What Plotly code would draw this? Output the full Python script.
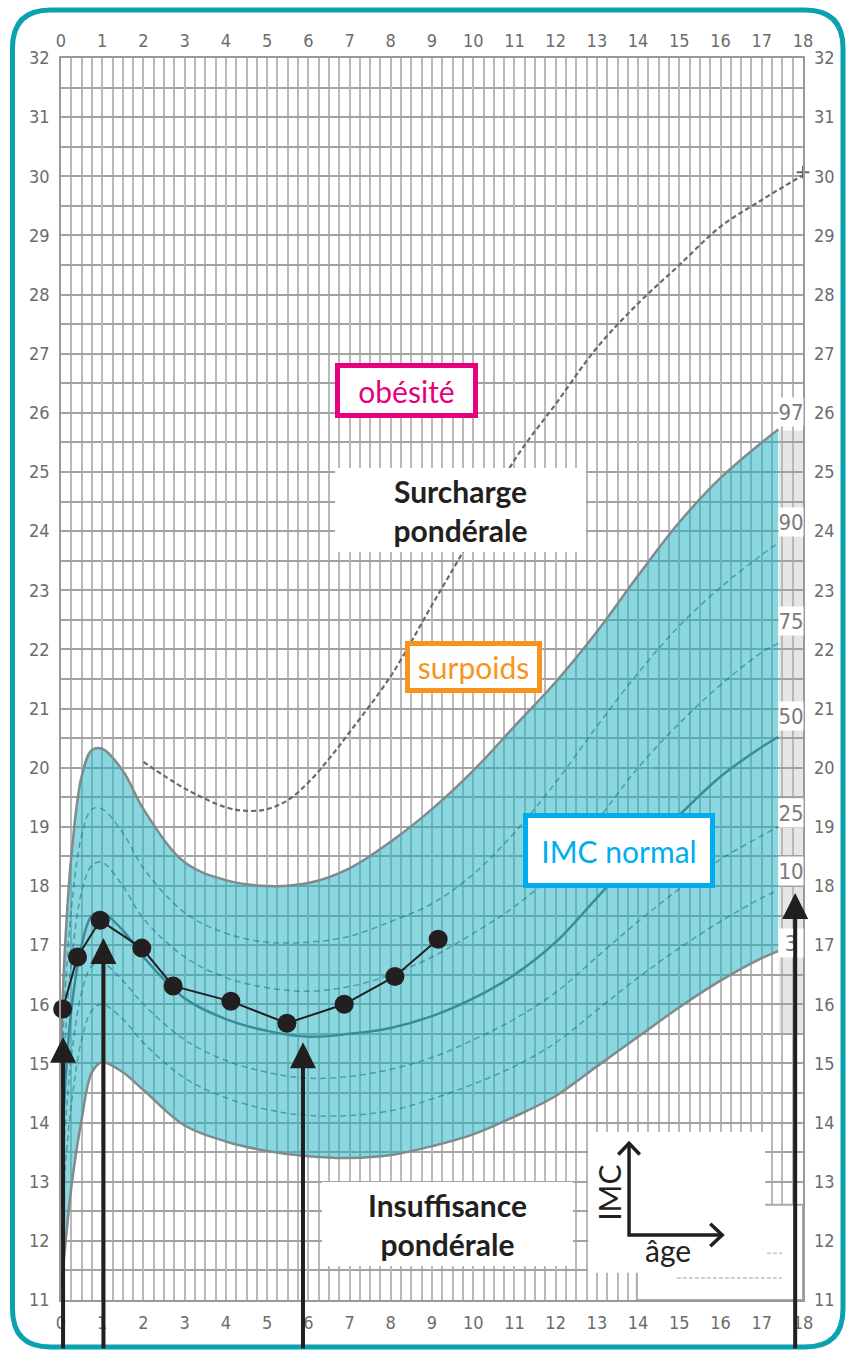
import plotly.graph_objects as go

# ---------------- data ----------------
AGES = [0, 0.1, 0.25, 0.5, 0.75, 1, 1.5, 2, 3, 4, 5, 6, 7, 8, 9, 10, 11, 12, 13, 14, 15, 16, 17, 17.4]
P97 = [15.3, 17.0, 18.5, 19.85, 20.3, 20.32, 19.95, 19.3, 18.4, 18.1, 18.0, 18.05, 18.3, 18.75, 19.3, 19.95, 20.7, 21.45, 22.3, 23.25, 24.15, 24.9, 25.5, 25.72]
P90 = [14.6, 16.2, 17.6, 18.85, 19.3, 19.3, 18.9, 18.3, 17.55, 17.2, 17.05, 17.05, 17.15, 17.4, 17.7, 18.2, 18.9, 19.75, 20.7, 21.6, 22.4, 23.05, 23.6, 23.8]
P75 = [13.9, 15.4, 16.7, 17.9, 18.35, 18.4, 18.0, 17.45, 16.8, 16.45, 16.28, 16.22, 16.3, 16.5, 16.8, 17.2, 17.65, 18.25, 19.1, 20.0, 20.75, 21.4, 21.95, 22.1]
P50 = [13.2, 14.6, 15.9, 17.0, 17.5, 17.55, 17.25, 16.8, 16.1, 15.75, 15.55, 15.45, 15.5, 15.6, 15.8, 16.1, 16.5, 17.05, 17.8, 18.55, 19.2, 19.85, 20.35, 20.52]
P25 = [12.6, 13.9, 15.1, 16.2, 16.65, 16.7, 16.4, 16.0, 15.4, 15.05, 14.85, 14.75, 14.78, 14.9, 15.1, 15.4, 15.75, 16.2, 16.8, 17.4, 17.95, 18.45, 18.85, 19.0]
P10 = [12.0, 13.2, 14.3, 15.4, 15.9, 16.0, 15.75, 15.35, 14.75, 14.42, 14.22, 14.12, 14.12, 14.2, 14.4, 14.65, 14.95, 15.35, 15.9, 16.45, 16.95, 17.4, 17.8, 17.93]
P3 = [11.2, 11.9, 12.9, 14.05, 14.85, 15.02, 14.85, 14.55, 13.95, 13.68, 13.52, 13.43, 13.4, 13.45, 13.6, 13.8, 14.1, 14.45, 14.95, 15.45, 15.95, 16.4, 16.78, 16.9]

IOTF_AGES = [2, 3, 4, 4.5, 5, 5.5, 6, 6.5, 7, 8, 9, 10, 11, 12, 13, 14, 15, 16, 17, 18]
IOTF_BMI = [20.1, 19.65, 19.33, 19.27, 19.3, 19.45, 19.75, 20.15, 20.6, 21.55, 22.75, 23.95, 25.2, 26.15, 27.1, 27.85, 28.5, 29.15, 29.6, 30.02]

CHILD_AGES = [0.04, 0.4, 0.95, 1.96, 2.72, 4.12, 5.48, 6.87, 8.1, 9.15]
CHILD_BMI = [15.92, 16.8, 17.42, 16.95, 16.31, 16.05, 15.68, 16.0, 16.47, 17.1]

PCT_LABELS = ["97", "90", "75", "50", "25", "10", "3"]
PCT_LABEL_BMI = [26.02, 24.15, 22.48, 20.87, 19.23, 18.25, 17.04]

ARROW_AGES = [0.05, 1.03, 5.87, 17.81]
ARROW_TIPS = [15.45, 17.12, 15.36, 17.88]

X_TICKS = list(range(0, 19))
Y_TICKS = list(range(11, 33))

# ---------------- geometry helpers ----------------
W, H = 851, 1350
ML, MR, MT, MB = 61, 48, 58, 50
PW, PH = W - ML - MR, H - MT - MB
X0, X1, Y0, Y1 = 0, 18, 11, 32


def data_y_to_px(v):
    return MT + (Y1 - v) / (Y1 - Y0) * PH


def pxx(px):
    return (px - ML) / PW


def pxy(py):
    return (H - MB - py) / PH


TEAL_FILL = "rgba(30,178,196,0.52)"
EDGE = "#7f8b8d"
INNER = "rgba(25,110,125,0.55)"
INK = "#231f20"
NARROW = "DejaVu Sans Condensed, Liberation Sans Narrow, Arial Narrow, sans-serif"
TICK_FONT = dict(family=NARROW, size=18, color="#6c6c6c")
LABEL_FONT = "Lato, Open Sans, sans-serif"
SPL = dict(shape="spline", smoothing=1.0)

fig = go.Figure()

# band P3 - P97
fig.add_trace(go.Scatter(x=AGES, y=P3, mode="lines", line=dict(color=EDGE, width=2.5, **SPL),
                         hoverinfo="skip"))
fig.add_trace(go.Scatter(x=AGES, y=P97, mode="lines", fill="tonexty", fillcolor=TEAL_FILL,
                         line=dict(color=EDGE, width=2.5, **SPL), hoverinfo="skip"))
for series in (P90, P75, P25, P10):
    fig.add_trace(go.Scatter(x=AGES, y=series, mode="lines",
                             line=dict(color=INNER, width=1.5, dash="6px,4px", **SPL),
                             hoverinfo="skip"))
fig.add_trace(go.Scatter(x=AGES, y=P50, mode="lines",
                         line=dict(color="#3a8c99", width=2.5, **SPL), hoverinfo="skip"))

# IOTF dashed curve
fig.add_trace(go.Scatter(x=IOTF_AGES, y=IOTF_BMI, mode="lines",
                         line=dict(color="#6a6a6a", width=2.2, dash="5px,3px", **SPL),
                         hoverinfo="skip"))
fig.add_trace(go.Scatter(x=IOTF_AGES[-1:], y=[IOTF_BMI[-1] + 0.05], mode="markers",
                         marker=dict(symbol="cross-thin", size=9, line=dict(color="#666", width=2)),
                         hoverinfo="skip", cliponaxis=False))

# child's BMI
fig.add_trace(go.Scatter(x=CHILD_AGES, y=CHILD_BMI, mode="lines+markers",
                         line=dict(color=INK, width=2), marker=dict(color=INK, size=19),
                         hoverinfo="skip", cliponaxis=False))

# dummy trace for the mirrored axes
fig.add_trace(go.Scatter(x=[0], y=[11], xaxis="x2", yaxis="y2", mode="markers",
                         marker=dict(opacity=0), hoverinfo="skip"))

shapes = []
# grey percentile column on the right
shapes.append(dict(type="rect", xref="x", yref="y", x0=17.42, x1=18, y0=15.5, y1=25.7,
                   fillcolor="#e6e6e6", line=dict(width=0), layer="below"))
# faint legend box bottom-right
shapes.append(dict(type="rect", xref="x", yref="y", x0=13.97, x1=18, y0=11, y1=12.61,
                   fillcolor="white", line=dict(color="#aaaaaa", width=2), layer="above"))
shapes.append(dict(type="line", xref="x", yref="y", x0=14.94, x1=17.49, y0=11.37, y1=11.37,
                   line=dict(color="#d0d0d0", width=2, dash="4px,2px"), layer="above"))
shapes.append(dict(type="line", xref="x", yref="y", x0=17.13, x1=17.49, y0=11.79, y1=11.79,
                   line=dict(color="#d0d0d0", width=2, dash="4px,2px"), layer="above"))
# IMC / âge inset
shapes.append(dict(type="rect", xref="x", yref="y", x0=12.79, x1=17.08, y0=11.46, y1=13.84,
                   fillcolor="white", line=dict(width=0), layer="above"))
ax0, ay0, axtop, axright = 13.78, 12.10, 13.65, 16.04
shapes.append(dict(type="path", xref="x", yref="y",
                   path=f"M {ax0},{axtop} L {ax0},{ay0} L {axright},{ay0}",
                   line=dict(color=INK, width=3.5), layer="above"))
shapes.append(dict(type="path", xref="x", yref="y",
                   path=f"M {ax0-0.26},{axtop-0.19} L {ax0},{axtop} L {ax0+0.26},{axtop-0.19}",
                   line=dict(color=INK, width=3.5), layer="above"))
shapes.append(dict(type="path", xref="x", yref="y",
                   path=f"M {axright-0.29},{ay0+0.19} L {axright},{ay0} L {axright-0.29},{ay0-0.19}",
                   line=dict(color=INK, width=3.5), layer="above"))

# rounded teal frame
L_, R_, T_, B_, r = 12.5, 843, 10, 1347, 38
frame = (f"M {pxx(L_)},{pxy(T_+r)} Q {pxx(L_)},{pxy(T_)} {pxx(L_+r)},{pxy(T_)} "
         f"L {pxx(R_-r)},{pxy(T_)} Q {pxx(R_)},{pxy(T_)} {pxx(R_)},{pxy(T_+r)} "
         f"L {pxx(R_)},{pxy(B_-r)} Q {pxx(R_)},{pxy(B_)} {pxx(R_-r)},{pxy(B_)} "
         f"L {pxx(L_+r)},{pxy(B_)} Q {pxx(L_)},{pxy(B_)} {pxx(L_)},{pxy(B_-r)} Z")
shapes.append(dict(type="path", xref="paper", yref="paper", path=frame,
                   line=dict(color="#0aa1b0", width=5), layer="above"))

annotations = []
# category boxes
boxes = [
    ("obésité", 8.38, 26.38, "#e6007e", 5, 133, 45, 400),
    ("Surcharge<br>pondérale", 9.69, 24.36, INK, 0, 251, 84, 700),
    ("surpoids", 10.01, 21.70, "#f7941d", 5, 127, 42, 400),
    ("IMC normal", 13.54, 18.60, "#00aeef", 5, 182, 65, 400),
    ("Insuffisance<br>pondérale", 9.38, 12.28, INK, 0, 251, 84, 700),
]
for text, bx, by, col, bw, w, h, wt in boxes:
    annotations.append(dict(x=bx, y=by, xref="x", yref="y", text=text, showarrow=False,
                            font=dict(family=LABEL_FONT, size=30, color=col, weight=wt),
                            bgcolor="white", bordercolor=col, borderwidth=bw, borderpad=0,
                            width=w, height=h, align="center", valign="middle"))

# percentile labels
for lab, ly in zip(PCT_LABELS, PCT_LABEL_BMI):
    annotations.append(dict(x=17.71, y=ly, xref="x", yref="y", text=lab, showarrow=False,
                           font=dict(family=NARROW, size=22, color="#7a7a7a"),
                           bgcolor="white", width=24, height=28, borderpad=0))

# inset texts
annotations.append(dict(x=13.29, y=12.81, xref="x", yref="y", text="IMC", showarrow=False, textangle=-90,
                        font=dict(family=LABEL_FONT, size=30, color=INK)))
annotations.append(dict(x=14.73, y=11.84, xref="x", yref="y", text="âge", showarrow=False,
                        font=dict(family=LABEL_FONT, size=30, color=INK)))

# black arrows from the bottom edge
for a_age, a_tip in zip(ARROW_AGES, ARROW_TIPS):
    tail = 1370 - data_y_to_px(a_tip)
    annotations.append(dict(x=a_age, y=a_tip, xref="x", yref="y", text="", showarrow=True,
                            ax=0, ay=tail, axref="pixel", ayref="pixel",
                            arrowhead=2, arrowsize=1.3, arrowwidth=4, arrowcolor=INK, standoff=0))

grid_x = dict(color="#b9b9b9", width=1.5)
grid_y = dict(color="#a3a3a3", width=2)

fig.update_layout(
    width=W, height=H, autosize=False,
    margin=dict(l=ML, r=MR, t=MT, b=MB, autoexpand=False),
    paper_bgcolor="white", plot_bgcolor="white", showlegend=False,
    xaxis=dict(range=[X0, X1], tickvals=X_TICKS, ticks="", showgrid=True,
               gridcolor=grid_x["color"], gridwidth=grid_x["width"],
               minor=dict(dtick=0.25, tick0=0, showgrid=True, gridcolor=grid_x["color"], gridwidth=grid_x["width"]),
               zeroline=False, showline=True, linecolor="#9a9a9a", linewidth=1.5, mirror=True,
               tickfont=TICK_FONT, ticklabelstandoff=6, fixedrange=True),
    yaxis=dict(range=[Y0, Y1], tickvals=Y_TICKS, ticks="", showgrid=True,
               gridcolor=grid_y["color"], gridwidth=grid_y["width"],
               minor=dict(dtick=0.5, tick0=11, showgrid=True, gridcolor=grid_y["color"], gridwidth=grid_y["width"]),
               zeroline=False, showline=True, linecolor="#9a9a9a", linewidth=1.5, mirror=True,
               tickfont=TICK_FONT, ticklabelstandoff=6, fixedrange=True),
    xaxis2=dict(range=[X0, X1], tickvals=X_TICKS, ticks="", overlaying="x", side="top", showgrid=False,
                zeroline=False, tickfont=TICK_FONT, ticklabelstandoff=6, fixedrange=True),
    yaxis2=dict(range=[Y0, Y1], tickvals=Y_TICKS, ticks="", overlaying="y", side="right", showgrid=False,
                zeroline=False, tickfont=TICK_FONT, ticklabelstandoff=10, fixedrange=True),
    shapes=shapes,
    annotations=annotations,
)

fig.write_html("out.html", config={"displayModeBar": False},
               post_script="document.body.style.margin='0';")
